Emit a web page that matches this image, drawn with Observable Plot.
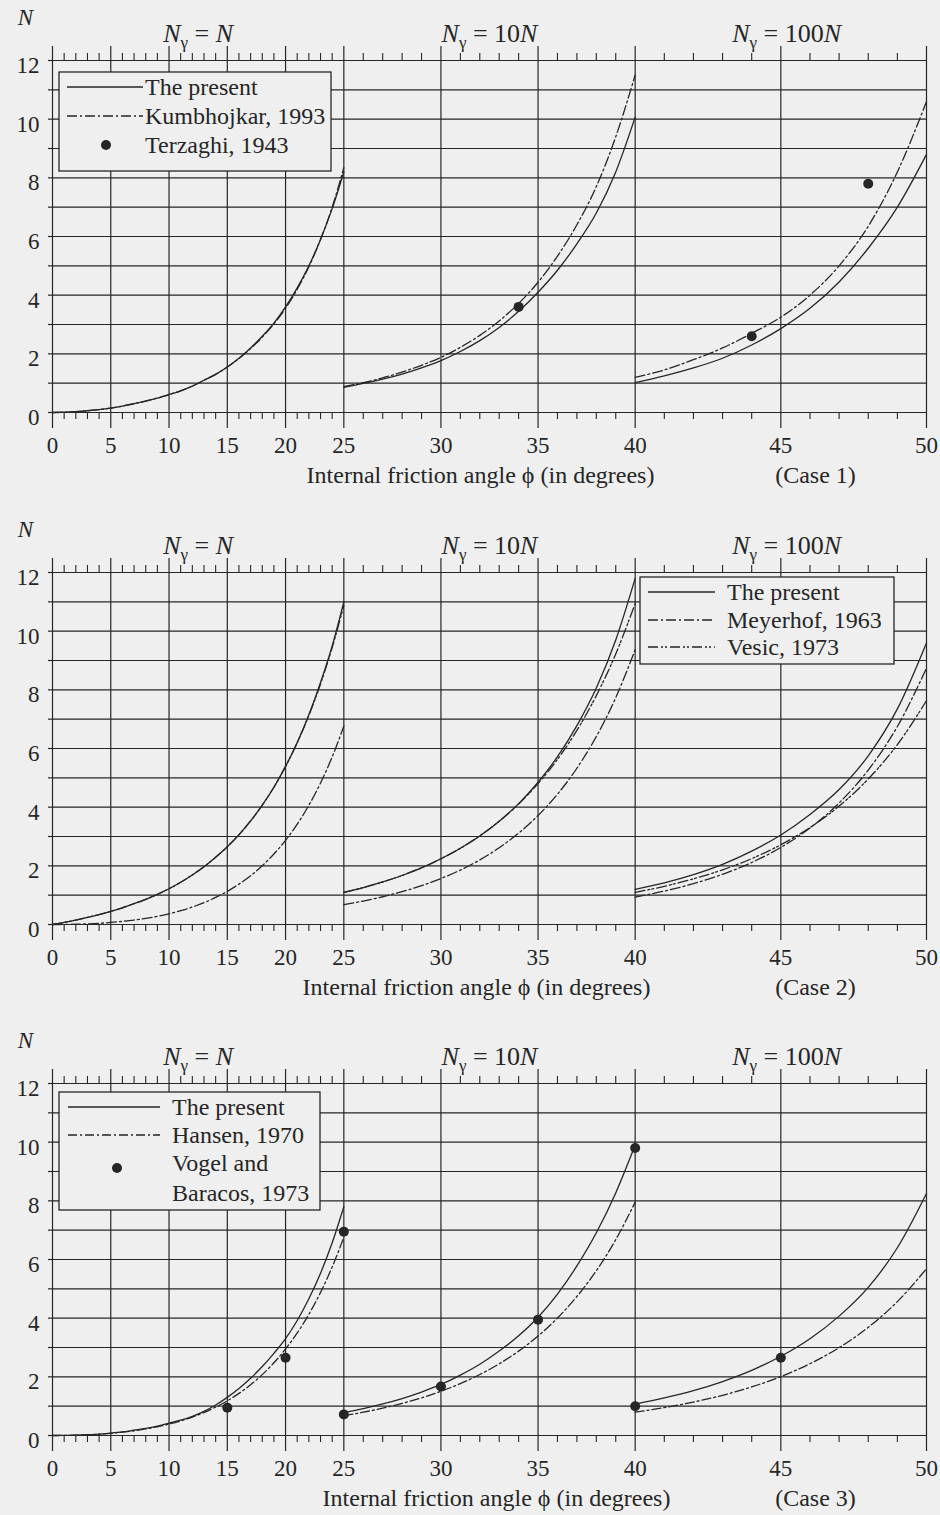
<!DOCTYPE html>
<html><head><meta charset="utf-8">
<script src="https://cdn.jsdelivr.net/npm/d3@7"></script>
<script src="https://cdn.jsdelivr.net/npm/@observablehq/plot@0.6"></script>
<style>
html,body{margin:0;padding:0;background:#efefef;}
#chart{width:940px;}
#chart svg{display:block;}
</style></head><body><div id="chart"></div>
<script>
// ---------- angle grids (degrees) for the three x segments ----------
const phiA = [0,1,2,3,4,5,6,7,8,9,10,11,12,13,14,15,16,17,18,19,20,21,22,23,24,25];   // N_gamma = N
const phiB = [25,26,27,28,29,30,31,32,33,34,35,36,37,38,39,40];                       // N_gamma = 10N
const phiC = [40,41,42,43,44,45,46,47,48,49,50];                                      // N_gamma = 100N

// ---------- Case 1 ----------
const c1PresentA = [0,0.01,0.03,0.06,0.1,0.15,0.22,0.3,0.39,0.49,0.61,0.74,0.9,1.1,1.3,1.55,1.85,2.2,2.6,3.05,3.6,4.25,5.0,5.9,6.95,8.2];
const c1PresentB = [0.86,0.99,1.14,1.31,1.52,1.77,2.08,2.45,2.9,3.45,4.1,4.85,5.75,6.8,8.2,10.07];
const c1PresentC = [1.02,1.25,1.52,1.85,2.3,2.86,3.55,4.45,5.6,7.0,8.8];
const kumbhojkarA = [0,0.01,0.03,0.06,0.1,0.15,0.22,0.3,0.39,0.49,0.61,0.74,0.9,1.1,1.3,1.55,1.84,2.18,2.57,3.02,3.55,4.2,4.97,5.9,7.0,8.35];
const kumbhojkarB = [0.88,1.02,1.18,1.38,1.61,1.88,2.22,2.63,3.12,3.72,4.44,5.33,6.4,7.7,9.4,11.5];
const kumbhojkarC = [1.2,1.45,1.8,2.2,2.7,3.25,4.0,5.0,6.35,8.2,10.6];
const terzaghiPhi = [34,44,48];
const terzaghiN   = [3.6,2.6,7.8];

// ---------- Case 2 ----------
const c2PresentA = [0,0.07,0.15,0.24,0.34,0.45,0.57,0.71,0.86,1.03,1.22,1.44,1.69,1.97,2.29,2.65,3.06,3.53,4.07,4.68,5.39,6.2,7.15,8.25,9.5,11.0];
const c2PresentB = [1.1,1.26,1.45,1.67,1.93,2.24,2.6,3.02,3.52,4.12,4.85,5.72,6.78,8.06,9.7,11.8];
const c2PresentC = [1.2,1.42,1.7,2.05,2.5,3.05,3.75,4.6,5.75,7.35,9.6];
const meyerhofA = [0,0.002,0.01,0.023,0.042,0.07,0.106,0.152,0.21,0.279,0.366,0.471,0.595,0.743,0.922,1.129,1.377,1.663,2.005,2.404,2.871,3.42,4.065,4.824,5.714,6.764];
const meyerhofB = [0.676,0.8,0.946,1.119,1.323,1.567,1.856,2.202,2.616,3.114,3.716,4.442,5.327,6.407,7.733,9.37];
const meyerhofC = [0.937,1.14,1.393,1.712,2.114,2.627,3.288,4.143,5.265,6.75,8.739];
const vesicA = [0,0.07,0.15,0.24,0.34,0.45,0.57,0.71,0.86,1.03,1.22,1.44,1.69,1.97,2.29,2.65,3.06,3.53,4.07,4.68,5.39,6.2,7.13,8.2,9.44,10.88];
const vesicB = [1.088,1.254,1.447,1.672,1.934,2.24,2.599,3.022,3.519,4.106,4.803,5.631,6.619,7.803,9.225,10.941];
const vesicC = [1.094,1.302,1.556,1.865,2.246,2.718,3.304,4.037,4.96,6.132,7.629];

// ---------- Case 3 ----------
const c3PresentA = [0,0.003,0.012,0.027,0.05,0.08,0.12,0.18,0.24,0.32,0.42,0.52,0.65,0.82,1.04,1.3,1.6,1.95,2.35,2.8,3.3,3.92,4.66,5.53,6.57,7.8];
const c3PresentB = [0.78,0.916,1.075,1.26,1.48,1.74,2.06,2.43,2.88,3.4,4.03,4.82,5.78,6.91,8.27,9.9];
const c3PresentC = [1.07,1.28,1.53,1.84,2.22,2.7,3.3,4.07,5.05,6.4,8.25];
const hansenA = [0,0.002,0.011,0.024,0.045,0.075,0.114,0.162,0.223,0.297,0.389,0.499,0.628,0.783,0.969,1.18,1.436,1.729,2.076,2.479,2.95,3.495,4.133,4.877,5.743,6.757];
const hansenB = [0.676,0.794,0.932,1.094,1.284,1.507,1.769,2.079,2.444,2.877,3.392,4.005,4.739,5.617,6.676,7.954];
const hansenC = [0.795,0.951,1.14,1.371,1.656,2.008,2.447,2.995,3.687,4.564,5.686];
const vogelPhi = [15,20,25,25,30,35,40,40,45];
const vogelN   = [0.95,2.65,6.95,0.72,1.67,3.95,9.8,1.0,2.65];

// ---------- axes / labels ----------
const xDomain = [0,25,40,50];
const xMajor = [0,5,10,15,20,25,30,35,40,45,50];
const xMinor = [1,2,3,4,6,7,8,9,11,12,13,14,16,17,18,19,21,22,23,24,26,27,28,29,31,32,33,34,36,37,38,39,41,42,43,44,46,47,48,49];
const xLabels = [0,5,10,15,20,25,30,35,40,45,50];
const yGrid = [0,1,2,3,4,5,6,7,8,9,10,11,12];
const yLabels = [0,2,4,6,8,10,12];
const segTitles = ["Nγ = N","Nγ = 10N","Nγ = 100N"];
const segCenters = [12.5,32.5,45.2];
const xTitle = "Internal friction angle ϕ (in degrees)";
const caseLabels = ["(Case 1)","(Case 2)","(Case 3)"];

const INK = "#262626", BG = "#efefef", FONT = "Liberation Serif, DejaVu Serif, serif";
const DASH_K = "10,3,2,3", DASH_M = "10,3,2,3", DASH_V = "10,3,2,2,2,3", DASH_H = "9,3,2,3";

function rows(a, b, c) {
  const out = [];
  phiA.forEach((p, i) => out.push({phi: p, N: a[i], seg: "A"}));
  phiB.forEach((p, i) => out.push({phi: p, N: b[i], seg: "B"}));
  phiC.forEach((p, i) => out.push({phi: p, N: c[i], seg: "C"}));
  return out;
}
function pts(xs, ys) { return xs.map((x, i) => ({phi: x, N: ys[i]})); }

const panels = [
  {height: 512, mb: 100, caseLabel: caseLabels[0], xtDx: -9,
   series: [{d: rows(c1PresentA, c1PresentB, c1PresentC), dash: null},
            {d: rows(kumbhojkarA, kumbhojkarB, kumbhojkarC), dash: DASH_K}],
   points: pts(terzaghiPhi, terzaghiN),
   legend: {x: 59, y: 72, w: 272, h: 99, lx1: 67, lx2: 143, tx: 145,
     entries: [{label: "The present", y: 87, dash: ""},
               {label: "Kumbhojkar, 1993", y: 116, dash: DASH_K},
               {label: "Terzaghi, 1943", y: 145, dot: 106}]}},
  {height: 511, mb: 99, caseLabel: caseLabels[1], xtDx: -13,
   series: [{d: rows(c2PresentA, c2PresentB, c2PresentC), dash: null},
            {d: rows(meyerhofA, meyerhofB, meyerhofC), dash: DASH_M},
            {d: rows(vesicA, vesicB, vesicC), dash: DASH_V}],
   points: [],
   legend: {x: 640, y: 65, w: 254, h: 87, lx1: 648, lx2: 715, tx: 727,
     entries: [{label: "The present", y: 80, dash: ""},
               {label: "Meyerhof, 1963", y: 108, dash: DASH_M},
               {label: "Vesic, 1973", y: 135, dash: DASH_V}]}},
  {height: 492, mb: 80, caseLabel: caseLabels[2], xtDx: 7,
   series: [{d: rows(c3PresentA, c3PresentB, c3PresentC), dash: null},
            {d: rows(hansenA, hansenB, hansenC), dash: DASH_H}],
   points: pts(vogelPhi, vogelN),
   legend: {x: 59, y: 69, w: 261, h: 118, lx1: 68, lx2: 160, tx: 172,
     entries: [{label: "The present", y: 84, dash: ""},
               {label: "Hansen, 1970", y: 112, dash: DASH_H},
               {label: "Vogel and", y: 140, dot: 117, doty: 145},
               {label: "Baracos, 1973", y: 170}]}}
];

function subscriptify(svg) {
  d3.select(svg).selectAll("text").each(function () {
    const t = this.textContent;
    const m = /^N(γ)( = \d*)N$/.exec(t);
    if (!m) return;
    const s = d3.select(this);
    s.text(null);
    s.append("tspan").attr("font-style", "italic").text("N");
    s.append("tspan").attr("font-size", 17).attr("dy", 6).text(m[1]);
    s.append("tspan").attr("dy", -6).text(m[2]);
    s.append("tspan").attr("font-style", "italic").text("N");
  });
}

function addLegend(svg, L) {
  const g = d3.select(svg).append("g").attr("font-family", FONT).attr("font-size", 24)
    .attr("fill", INK).attr("text-anchor", "start");
  g.append("rect").attr("x", L.x).attr("y", L.y).attr("width", L.w).attr("height", L.h)
    .attr("fill", BG).attr("stroke", INK).attr("stroke-width", 1.3);
  for (const e of L.entries) {
    if (e.dash !== undefined) {
      g.append("line").attr("x1", L.lx1).attr("x2", L.lx2).attr("y1", e.y).attr("y2", e.y)
        .attr("stroke", INK).attr("stroke-width", 1.3).attr("stroke-dasharray", e.dash || null);
    }
    if (e.dot !== undefined) {
      g.append("circle").attr("cx", e.dot).attr("cy", e.doty ?? e.y).attr("r", 5).attr("fill", INK);
    }
    g.append("text").attr("x", L.tx).attr("y", e.y).attr("dy", "0.33em").text(e.label);
  }
}

const chart = document.getElementById("chart");
for (const P of panels) {
  const txt = {fill: INK, fontFamily: FONT};
  const marks = [
    Plot.ruleY(yGrid, {y: d => d, stroke: INK, strokeWidth: 1.2}),
    Plot.ruleY(yGrid, {y: d => d, x1: 0, x2: 0, insetLeft: -4, stroke: INK, strokeWidth: 1.2}),
    Plot.ruleX(xMajor, {x: d => d, y1: 0, y2: 12, stroke: INK, strokeWidth: 1.2}),
    Plot.ruleX(xMajor, {x: d => d, y1: 12, y2: 12, insetTop: -14, stroke: INK, strokeWidth: 1.2}),
    Plot.ruleX(xMajor, {x: d => d, y1: 0, y2: 0, insetBottom: -16, stroke: INK, strokeWidth: 1.2}),
    Plot.ruleX(xMinor, {x: d => d, y1: 12, y2: 12, insetTop: -7, stroke: INK, strokeWidth: 1.1}),
    Plot.ruleX(xMinor, {x: d => d, y1: 0, y2: 0, insetBottom: -7, stroke: INK, strokeWidth: 1.1}),
    ...P.series.map(s => Plot.line(s.d, {x: "phi", y: "N", z: "seg", curve: "monotone-x",
      stroke: INK, strokeWidth: 1.3, strokeDasharray: s.dash || undefined})),
    Plot.dot(P.points, {x: "phi", y: "N", r: 5, fill: INK, stroke: "none"}),
    Plot.text(yLabels, {y: d => d, frameAnchor: "left", dx: -13, dy: 5, textAnchor: "end", text: d => String(d),
      fontSize: 23, ...txt}),
    Plot.text(xLabels, {x: d => d, frameAnchor: "bottom", dy: 40, text: d => String(d), fontSize: 23, ...txt}),
    Plot.text(segTitles, {x: segCenters, frameAnchor: "top", dy: -37, text: d => d, fontSize: 26, ...txt}),
    Plot.text(["N"], {frameAnchor: "top-left", dx: -27, dy: -52, textAnchor: "middle", text: d => d,
      fontStyle: "italic", fontSize: 23, ...txt}),
    Plot.text([xTitle], {frameAnchor: "bottom", dx: P.xtDx, dy: 70, text: d => d, fontSize: 24, ...txt}),
    Plot.text([P.caseLabel], {frameAnchor: "bottom-right", dx: -111, dy: 70, textAnchor: "middle", text: d => d,
      fontSize: 24, ...txt})
  ];
  const svg = Plot.plot({
    width: 940, height: P.height,
    marginLeft: 52, marginRight: 14, marginTop: 60, marginBottom: P.mb,
    style: {background: "transparent", fontFamily: FONT, fontSize: "23px", color: INK, overflow: "visible"},
    x: {type: "linear", domain: xDomain, axis: null},
    y: {domain: [0, 12], axis: null},
    marks
  });
  subscriptify(svg);
  addLegend(svg, P.legend);
  chart.appendChild(svg);
}
</script></body></html>
